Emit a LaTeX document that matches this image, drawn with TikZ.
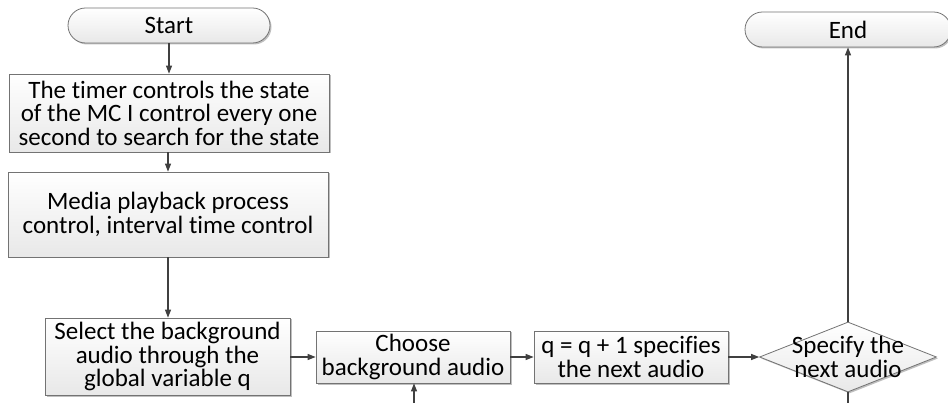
\documentclass[tikz,border=0pt]{standalone}
\usepackage{fontspec}
\setmainfont{Carlito}[Ligatures=NoCommon]
\usetikzlibrary{arrows.meta,shapes.geometric,shapes.misc,shadows}
\begin{document}
\begin{tikzpicture}[x=1pt,y=-1pt,
  txt/.style={font=\fontsize{25}{23.5}\selectfont},
  base/.style={draw=black!55, line width=0.8pt, top color=white, bottom color=black!9,
    align=center, inner sep=0pt, txt,
    drop shadow={shadow xshift=1.5pt, shadow yshift=-1.5pt, opacity=0.25, fill=black}},
  procbox/.style={base, rectangle},
  pill/.style={base, rounded rectangle},
  decide/.style={base, diamond},
  conn/.style={draw=black!75, line width=1.1pt, -{Triangle[length=8pt,width=6pt]}},
  plainconn/.style={draw=black!75, line width=1.1pt}
]
\useasboundingbox (0,0) rectangle (948,403);

\node[pill, minimum width=202pt, minimum height=35pt] (start) at (169,25.5) {Start};
\node[procbox, minimum width=320pt, minimum height=78pt] (b1) at (169,113)
  {The timer controls the state\\of the MC I control every one\\second to search for the state};
\node[procbox, minimum width=320pt, minimum height=85pt] (b2) at (168,214.5)
  {Media playback process\\control, interval time control};
\node[procbox, minimum width=245pt, minimum height=77pt] (b3) at (167.5,356.5)
  {Select the background\\audio through the\\global variable q};
\node[procbox, minimum width=194pt, minimum height=52pt] (b4) at (413,357)
  {Choose\\background audio};
\node[procbox, minimum width=194pt, minimum height=52pt] (b5) at (631,357)
  {q = q + 1 specifies\\the next audio};
\node[decide, minimum width=177pt, minimum height=70pt] (d) at (848,357) {};
\node[align=center, inner sep=0pt, txt] (dtext) at (d.center)
  {Specify the\\next audio};
\node[pill, minimum width=206pt, minimum height=35pt] (end) at (848,29.5) {End};

\coordinate (dbot) at (848,404);
\coordinate (bin) at (414,404);

\draw[conn] (start.south) -- (start.south |- b1.north);
\draw[conn] (b1.south -| b2.north) -- (b2.north);
\draw[conn] (b2.south) -- (b2.south |- b3.north);
\draw[conn] (b3.east |- b4.west) -- (b4.west);
\draw[conn] (b4.east) -- (b5.west);
\draw[conn] (b5.east) -- (d.west);
\draw[conn] (d.north) -- (end.south);
\draw[plainconn] (d.south) -- (dbot);
\draw[conn] (bin) -- (bin |- b4.south);
\end{tikzpicture}
\end{document}
